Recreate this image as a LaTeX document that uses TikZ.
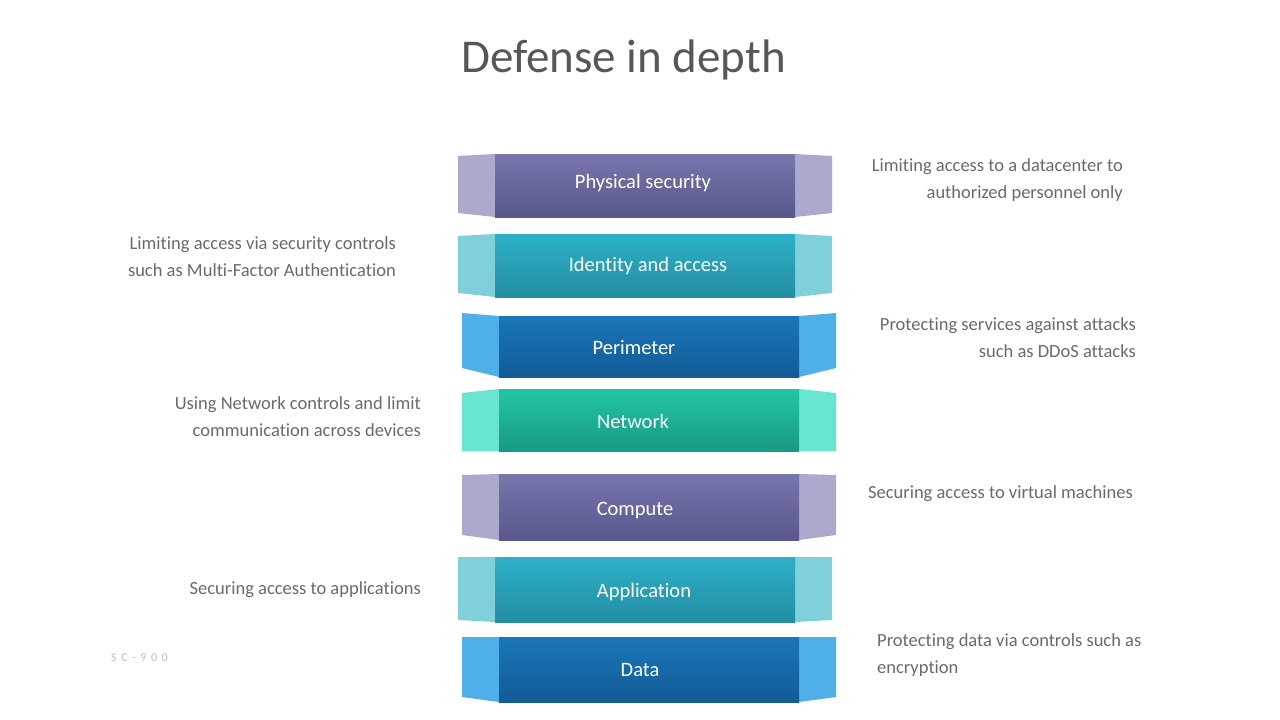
\documentclass[tikz,border=0pt]{standalone}
\usepackage{fontspec}
\setmainfont[Ligatures={NoCommon}]{Carlito}
\definecolor{txtgray}{HTML}{6A6A6A}
\definecolor{titlegray}{HTML}{575757}
\definecolor{purpside}{HTML}{ABAACD}
\definecolor{purptop}{HTML}{7876AD}
\definecolor{purpbot}{HTML}{58588B}
\definecolor{tealside}{HTML}{80D0DC}
\definecolor{tealtop}{HTML}{2DB0C8}
\definecolor{tealbot}{HTML}{238EA2}
\definecolor{blueside}{HTML}{4FB0E9}
\definecolor{bluetop}{HTML}{1B76B9}
\definecolor{bluebot}{HTML}{125B96}
\definecolor{greenside}{HTML}{68E5CE}
\definecolor{greentop}{HTML}{22C5A5}
\definecolor{greenbot}{HTML}{189A82}
% #1 name, #2 outer left x, #3 inner top, #4 inner bottom, #5 outer top, #6 outer bottom, #7 palette, #8 label, #9 label x/baseline
\newcommand\drawlayer[9]{%
  \fill[#7side] (#2,#5) -- ({#2+37},#3) -- ({#2+37},#4) -- (#2,#6) -- cycle;
  \fill[#7side] ({#2+374},#5) -- ({#2+337},#3) -- ({#2+337},#4) -- ({#2+374},#6) -- cycle;
  \node[layerbox, top color=#7top, bottom color=#7bot, minimum height={(#4-#3)*1pt}] (#1) at ({#2+37},#3) {};
  \node[bandlbl] (#1-lbl) at (#9) {#8};
}
\begin{document}
\begin{tikzpicture}[x=1pt,y=-1pt,
  layerbox/.style={anchor=north west, minimum width=300pt, inner sep=0pt, draw=none},
  bandlbl/.style={font=\fontsize{20.5}{24}\selectfont, text=white, inner sep=0pt, anchor=base},
  sidetxt/.style={font=\fontsize{18.5}{27}\selectfont, text=txtgray, inner sep=0pt},
  rtxt/.style={sidetxt, align=right, anchor=base east},
  ltxt/.style={sidetxt, align=left, anchor=base west}]
\useasboundingbox (0,0) rectangle (1280,720);
\fill[white] (0,0) rectangle (1280,720);
\node[font=\fontsize{47}{52}\selectfont, text=titlegray, anchor=base, inner sep=0pt] (title) at (623.5,72) {Defense in depth};

\drawlayer{phys}{458}{154}{217}{156}{213}{purp}{Physical security}{643,188}
\drawlayer{ident}{458}{234}{297}{236}{293}{teal}{Identity and access}{648,271}
\drawlayer{perim}{462}{316}{377}{313}{368}{blue}{Perimeter}{634,354}
\drawlayer{netw}{462}{389}{451}{393}{451}{green}{Network}{633,428}
\drawlayer{comp}{462}{474}{540}{475}{535}{purp}{Compute}{635,515}
\drawlayer{appl}{458}{557}{622}{557}{620}{teal}{Application}{644,597}
\drawlayer{data}{462}{637}{702}{637}{697}{blue}{Data}{640,676}

\node[rtxt] (d-phys) at (1123,198) {Limiting access to a datacenter to\\authorized personnel only};
\node[rtxt] (d-ident) at (396,276) {Limiting access via security controls\\such as Multi-Factor Authentication};
\node[rtxt] (d-perim) at (1136,357) {Protecting services against attacks\\such as DDoS attacks};
\node[rtxt] (d-netw) at (421,436) {Using Network controls and limit\\communication across devices};
\node[rtxt] (d-comp) at (1133,498) {Securing access to virtual machines};
\node[rtxt] (d-appl) at (421,594) {Securing access to applications};
\node[ltxt] (d-data) at (877,673) {Protecting data via controls such as\\encryption};
\node[anchor=base west, inner sep=0pt, text=black!25, font=\fontsize{12}{14}\selectfont\addfontfeatures{LetterSpace=38}] (code) at (111,661) {SC-900};
\end{tikzpicture}
\end{document}
